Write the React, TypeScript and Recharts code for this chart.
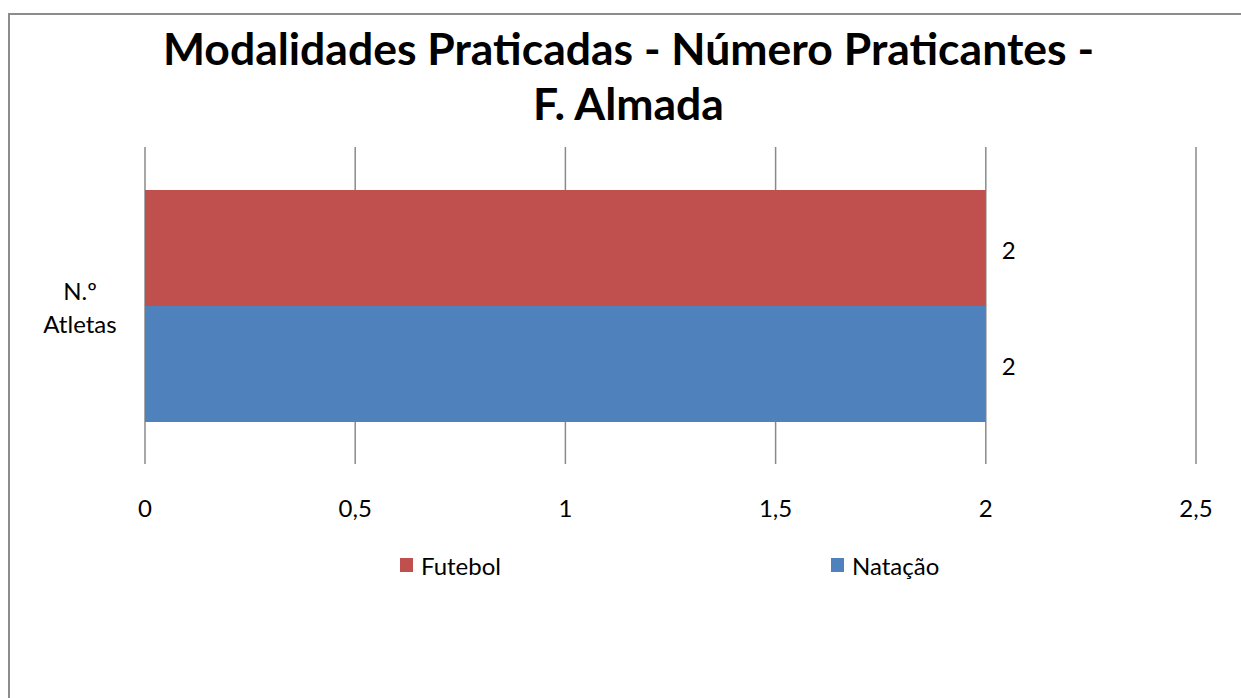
import React from 'react';
import { BarChart, Bar, XAxis, YAxis, CartesianGrid, Legend, LabelList } from 'recharts';

const categories = ['N.º Atletas'];
const futebolValues = [2];
const natacaoValues = [2];
const xTicks = [0, 0.5, 1, 1.5, 2, 2.5];
const seriesKeys = ['futebol', 'natacao'];
const seriesNames = ['Futebol', 'Natação'];
const seriesColors = ['#C0504D', '#4F81BD'];
const titleLines = ['Modalidades Praticadas - Número Praticantes -', 'F. Almada'];

const data = categories.map((c, i) => ({
  category: c,
  futebol: futebolValues[i],
  natacao: natacaoValues[i],
}));

const FONT = "Lato, 'Open Sans', sans-serif";

const fmt = (v: number) => String(v).replace('.', ',');

const CategoryTick = (props: any) => {
  const { x, y, payload } = props;
  const words = String(payload.value).split(' ');
  return (
    <text x={x - 57} y={y} textAnchor="middle" fontFamily={FONT} fontSize={24} fill="#000">
      {words.map((w, i) => (
        <tspan key={i} x={x - 57} dy={i === 0 ? -6 : 33}>
          {w}
        </tspan>
      ))}
    </text>
  );
};

const renderLegend = () => {
  const lefts = [400, 831];
  return (
    <div style={{ position: 'relative', width: 1241, height: 30, fontFamily: FONT }}>
      {seriesNames.map((n, i) => (
        <div
          key={n}
          style={{
            position: 'absolute',
            left: lefts[i],
            top: 0,
            height: 30,
            display: 'flex',
            alignItems: 'center',
            fontSize: 24,
            color: '#000',
            whiteSpace: 'nowrap',
          }}
        >
          <span style={{ display: 'inline-block', width: 13, height: 14, background: seriesColors[i], marginRight: 8 }} />
          <span>{n}</span>
        </div>
      ))}
    </div>
  );
};

export default function App() {
  return (
    <div style={{ position: 'relative', width: 1241, height: 698, overflow: 'hidden', background: '#fff' }}>
      <style>{`body{margin:0;overflow:hidden;background:#fff}`}</style>
      <div
        style={{
          position: 'absolute',
          left: 8,
          top: 13,
          width: 1300,
          height: 800,
          borderLeft: '2px solid #8c8c8c',
          borderTop: '2px solid #8c8c8c',
          boxSizing: 'border-box',
        }}
      />
      <div
        style={{
          position: 'absolute',
          left: 0,
          top: 20,
          width: 1257,
          textAlign: 'center',
          fontFamily: FONT,
          fontWeight: 700,
          fontSize: 44.5,
          lineHeight: '55px',
          color: '#000',
        }}
      >
        {titleLines.map((t) => (
          <div key={t}>{t}</div>
        ))}
      </div>
      <div style={{ position: 'absolute', left: 0, top: 0 }}>
        <BarChart
          width={1241}
          height={698}
          data={data}
          layout="vertical"
          margin={{ top: 147, right: 45, bottom: 164, left: 0 }}
          barCategoryGap={43}
          barGap={0}
        >
          <CartesianGrid horizontal={false} vertical={true} stroke="#8a8a8a" strokeWidth={1.5} />
          <XAxis
            type="number"
            domain={[0, 2.5]}
            ticks={xTicks}
            tickFormatter={fmt}
            axisLine={false}
            tickLine={false}
            tickMargin={30}
            height={40}
            interval={0}
            tick={{ fontFamily: FONT, fontSize: 24, fill: '#000' }}
          />
          <YAxis
            type="category"
            dataKey="category"
            width={145}
            axisLine={false}
            tickLine={false}
            tick={<CategoryTick />}
          />
          <Legend content={renderLegend} wrapperStyle={{ position: 'absolute', top: 550, left: 0, width: 1241 }} />
          {seriesKeys.map((k, i) => (
            <Bar key={k} dataKey={k} name={seriesNames[i]} fill={seriesColors[i]} isAnimationActive={false}>
              <LabelList
                dataKey={k}
                position="right"
                offset={16}
                dy={2}
                style={{ fontFamily: FONT, fontSize: 24, fill: '#000' }}
              />
            </Bar>
          ))}
        </BarChart>
      </div>
    </div>
  );
}
